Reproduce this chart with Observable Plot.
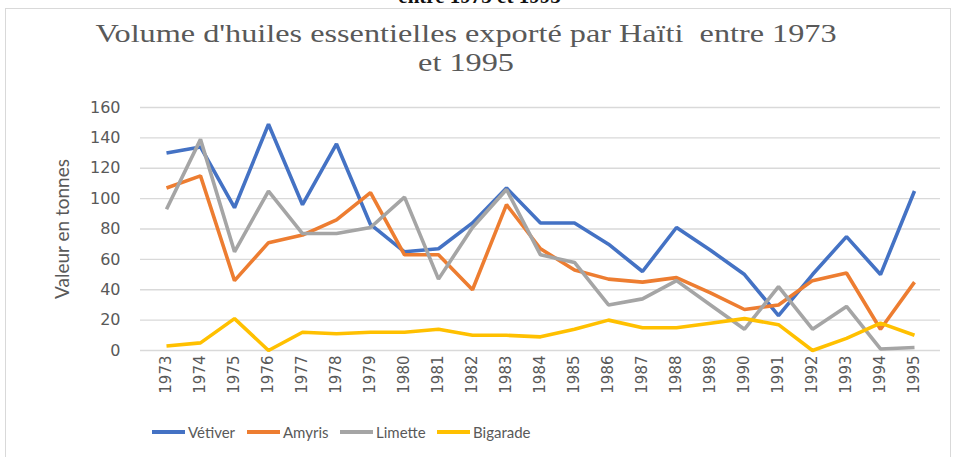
<!DOCTYPE html>
<html><head><meta charset="utf-8">
<script src="https://cdn.jsdelivr.net/npm/d3@7"></script>
<script src="https://cdn.jsdelivr.net/npm/@observablehq/plot@0.6"></script>
<style>
html,body{margin:0;padding:0;background:#fff;width:959px;height:457px;overflow:hidden;position:relative;font-family:"DejaVu Sans",sans-serif;}
#frame{position:absolute;left:5px;top:8px;width:946px;height:470px;border:1px solid #d9d9d9;box-sizing:border-box;}
#cut{position:absolute;left:0;width:959px;top:-16px;text-align:center;font:bold 21px "Liberation Serif",serif;color:#111;}
#title{position:absolute;left:16px;top:19px;width:900px;text-align:center;font:26px/29px "Liberation Serif",serif;color:#595959;transform:scaleX(1.24);transform-origin:450px 0;}
#chart{position:absolute;left:0;top:0;}
#legend{position:absolute;top:423px;left:0;font:15px Lato,sans-serif;color:#595959;}
.item{position:absolute;white-space:nowrap;display:flex;align-items:center;}
.sw{display:inline-block;width:33px;height:4px;margin-right:3px;}
</style></head>
<body>
<div id="frame"></div>
<div id="cut">entre 1973 et 1995</div>
<div id="title">Volume d'huiles essentielles exporté par Haïti&nbsp; entre 1973<br>et 1995</div>
<div id="chart"></div>
<div id="legend"></div>
<script>
const years = [1973,1974,1975,1976,1977,1978,1979,1980,1981,1982,1983,1984,1985,1986,1987,1988,1989,1990,1991,1992,1993,1994,1995];
const vetiver  = [130,134,94,149,96,136,83,65,67,84,107,84,84,70,52,81,66,50,23,50,75,50,105];
const amyris   = [107,115,46,71,76,86,104,63,63,40,96,67,53,47,45,48,38,27,30,46,51,14,45];
const limette  = [93,139,65,105,77,77,81,101,47,81,106,63,58,30,34,46,30,14,42,14,29,1,2];
const bigarade = [3,5,21,0,12,11,12,12,14,10,10,9,14,20,15,15,18,21,17,0,8,18,10];
const seriesNames = ["Vétiver","Amyris","Limette","Bigarade"];
const seriesColors = ["#4472C4","#ED7D31","#A5A5A5","#FFC000"];
const yTicks = [0,20,40,60,80,100,120,140,160];

const allSeries = [vetiver, amyris, limette, bigarade];
const rows = [];
allSeries.forEach((vals, s) => vals.forEach((v, i) => rows.push({year: String(years[i]), value: v, series: seriesNames[s]})));

const chart = Plot.plot({
  width: 959, height: 410,
  marginLeft: 140, marginRight: 19, marginTop: 107, marginBottom: 60,
  style: {fontFamily: "'DejaVu Sans', sans-serif", fontSize: "14px", color: "#595959", background: "transparent"},
  x: {type: "point", domain: years.map(String), padding: 0.5, label: null},
  y: {domain: [0, 160], label: null},
  color: {domain: seriesNames, range: seriesColors},
  marks: [
    Plot.gridY(yTicks, {stroke: "#d9d9d9", strokeOpacity: 1, strokeWidth: 1.3}),
    Plot.axisY({ticks: yTicks, tickSize: 0, tickPadding: 20, fontSize: 16, label: null}),
    Plot.axisX({tickRotate: -90, tickSize: 0, tickPadding: 5, fontSize: 15, label: null}),
    Plot.line(rows, {x: "year", y: "value", z: "series", stroke: "series", strokeWidth: 3.6, strokeLinejoin: "miter", strokeLinecap: "butt"}),
    Plot.text(["Valeur en tonnes"], {frameAnchor: "left", dx: -78, dy: 0, rotate: -90, textAnchor: "middle", fontFamily: "Lato, sans-serif", fontSize: 19, fill: "#595959", text: d => d})
  ]
});
document.getElementById("chart").appendChild(chart);

const legend = document.getElementById("legend");
const lx = [152, 247, 340, 437];
seriesNames.forEach((n, i) => {
  const it = document.createElement("div");
  it.className = "item";
  it.style.left = lx[i] + "px";
  it.innerHTML = `<span class="sw" style="background:${seriesColors[i]}"></span>${n}`;
  legend.appendChild(it);
});
</script>
</body></html>
